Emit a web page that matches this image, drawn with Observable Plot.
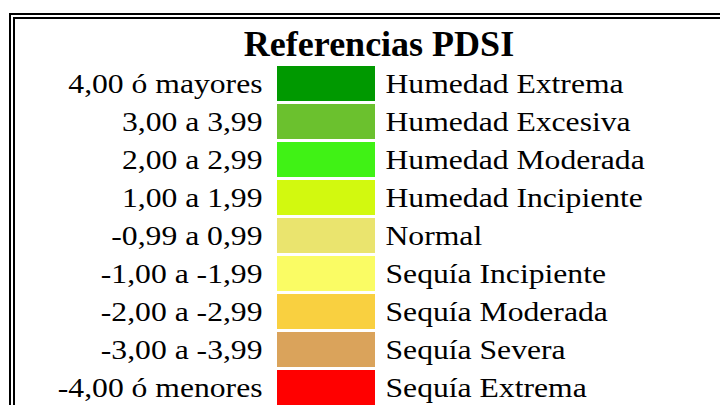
<!DOCTYPE html>
<html>
<head>
<meta charset="utf-8">
<script src="https://cdn.jsdelivr.net/npm/d3@7"></script>
<script src="https://cdn.jsdelivr.net/npm/@observablehq/plot@0.6"></script>
<style>
  html, body { margin: 0; padding: 0; background: #fff; }
  #wrap { position: relative; width: 720px; height: 405px; overflow: hidden; background: #fff; }
  #frame { position: absolute; left: 9px; top: 13px; width: 900px; height: 600px;
           border-left: 6px double #000; border-top: 6px double #000; box-sizing: border-box; }
  #title { position: absolute; left: 0; width: 758px; top: 26px; text-align: center;
           font-family: "Times New Roman", Times, "Liberation Serif", Tinos, serif; font-weight: bold;
           font-size: 36px; line-height: 36px; color: #000; }
  #chart { position: absolute; left: 0; top: 0; }
</style>
</head>
<body>
<div id="wrap">
  <div id="frame"></div>
  <div id="title">Referencias PDSI</div>
  <div id="chart"></div>
</div>
<script>
const rangos = ["4,00 ó mayores", "3,00 a 3,99", "2,00 a 2,99", "1,00 a 1,99", "-0,99 a 0,99",
                "-1,00 a -1,99", "-2,00 a -2,99", "-3,00 a -3,99", "-4,00 ó menores"];
const clases = ["Humedad Extrema", "Humedad Excesiva", "Humedad Moderada", "Humedad Incipiente", "Normal",
                "Sequía Incipiente", "Sequía Moderada", "Sequía Severa", "Sequía Extrema"];
const colores = ["#009900", "#6bc12e", "#40f215", "#d2f90f", "#eae46e", "#fafc64", "#f9d040", "#daa35b", "#ff0000"];
const columnas = ["rango", "color", "clase"];

const filas = rangos.map((r, i) => ({rango: r, clase: clases[i]}));

const plot = Plot.plot({
  width: 720,
  height: 405,
  margin: 0,
  style: {fontFamily: "'Times New Roman', Times, 'Liberation Serif', Tinos, serif", background: "transparent", overflow: "visible"},
  x: {type: "band", domain: columnas, range: [179, 473], padding: 0, axis: null},
  y: {type: "band", domain: rangos, range: [63.5, 408.8], paddingInner: 0.066, paddingOuter: 0.066, axis: null},
  color: {type: "ordinal", domain: clases, range: colores, legend: false},
  marks: [
    Plot.cell(filas, {x: () => "color", y: "rango", fill: "clase", inset: 0}),
    Plot.text(filas, {x: () => "rango", y: "rango", text: "rango", textAnchor: "end", dx: 34,
                      fontSize: 28, fill: "#000", className: "stretch"}),
    Plot.text(filas, {x: () => "clase", y: "rango", text: "clase", textAnchor: "start", dx: -39,
                      fontSize: 28, fill: "#000", className: "stretch"})
  ]
});
document.getElementById("chart").appendChild(plot);

// horizontal stretch of the row labels to match the reference proportions
d3.select(plot).selectAll(".stretch text").each(function () {
  const w = this.getComputedTextLength();
  this.setAttribute("textLength", (w * 1.13).toFixed(1));
  this.setAttribute("lengthAdjust", "spacingAndGlyphs");
});
</script>
</body>
</html>
